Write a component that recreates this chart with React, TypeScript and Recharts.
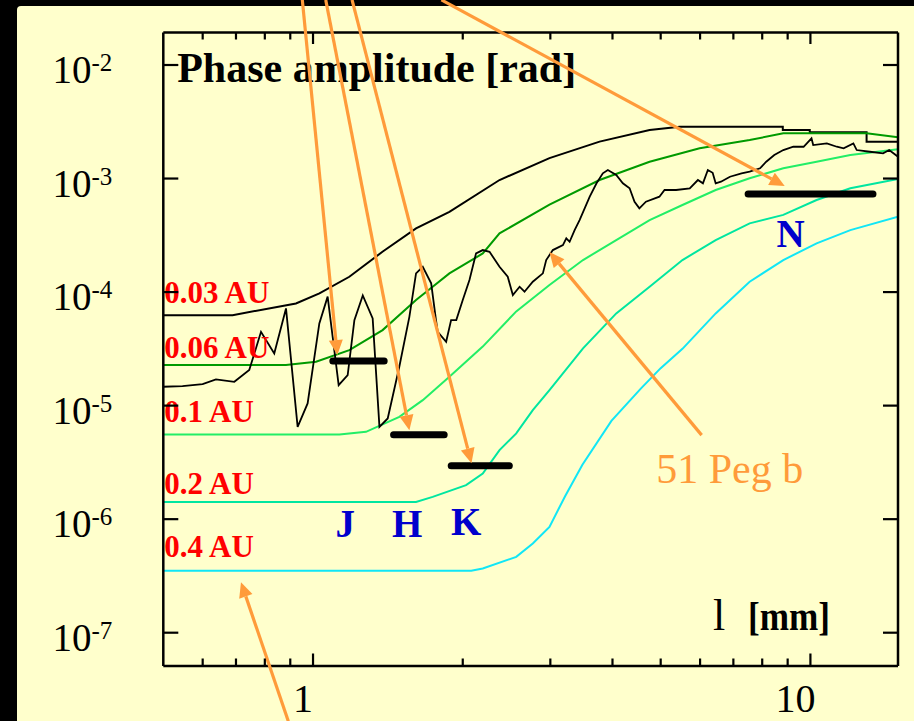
import React from "react";
import { ComposedChart, Line, XAxis, YAxis, ReferenceLine, ReferenceDot } from "recharts";

// ── Style constants ──────────────────────────────────────────
const SERIF = "'Liberation Serif', 'Times New Roman', Times, serif";
const ORANGE = "#FF9B3A";
const RED = "#FF0000";
const BLUE = "#0000CC";
const PAPER = "#FFFFCC";

// ── Axes ─────────────────────────────────────────────────────
const lambdaDomain = [0.5, 15];
const ampDomain = [5.09e-8, 0.01933];
const lambdaTicks = [0.6, 0.7, 0.8, 0.9, 1, 2, 3, 4, 5, 6, 7, 8, 9, 10];
const lambdaLabels = [1, 10];
const ampTicks = [1e-7, 1e-6, 1e-5, 1e-4, 1e-3, 1e-2];

// ── Model curves (x: wavelength, y: log10 of phase amplitude) ─
const au003Lambda = [0.5, 0.689, 0.924, 1.03, 1.183, 1.379, 1.611, 1.88, 2.371, 2.988, 3.768, 4.75, 5.46, 8.8, 8.8, 9.97, 9.97, 12.97, 12.97, 15];
const au003Log = [-4.203, -4.203, -4.1, -4.011, -3.865, -3.645, -3.439, -3.293, -3.013, -2.82, -2.675, -2.573, -2.544, -2.544, -2.573, -2.573, -2.593, -2.593, -2.676, -2.676];

const au006Lambda = [0.5, 0.882, 1.014, 1.183, 1.38, 1.611, 1.74, 1.88, 2.194, 2.371, 2.988, 3.768, 4.75, 5.988, 7.548, 8.82, 12.97, 15];
const au006Log = [-4.643, -4.643, -4.614, -4.511, -4.335, -4.07, -3.953, -3.835, -3.66, -3.483, -3.23, -3.013, -2.852, -2.734, -2.661, -2.602, -2.602, -2.637];

const au01Lambda = [0.5, 1.13, 1.278, 1.491, 1.662, 1.88, 2.194, 2.562, 2.988, 3.49, 4.07, 4.75, 5.53, 6.45, 7.548, 8.82, 10.29, 12.03, 15];
const au01Log = [-5.254, -5.254, -5.231, -5.099, -4.952, -4.746, -4.48, -4.17, -3.938, -3.718, -3.542, -3.366, -3.233, -3.101, -2.998, -2.91, -2.852, -2.793, -2.742];

const au02Lambda = [0.5, 1.611, 1.74, 2.031, 2.194, 2.371, 2.562, 2.766, 2.988, 3.49, 4.07, 4.75, 5.53, 6.45, 7.548, 8.82, 10.29, 12.03, 15];
const au02Log = [-5.848, -5.848, -5.804, -5.7, -5.598, -5.392, -5.245, -5.04, -4.863, -4.496, -4.188, -3.953, -3.718, -3.542, -3.395, -3.32, -3.189, -3.086, -3.003];

const au04Lambda = [0.5, 2.08, 2.194, 2.562, 2.766, 2.988, 3.21, 3.48, 3.98, 4.56, 5.0, 5.53, 6.45, 7.548, 8.82, 10.29, 12.03, 15];
const au04Log = [-6.455, -6.455, -6.434, -6.332, -6.214, -6.068, -5.8, -5.52, -5.134, -4.85, -4.67, -4.5, -4.188, -3.909, -3.718, -3.571, -3.454, -3.337];

const orbitNames = ["0.03 AU", "0.06 AU", "0.1 AU", "0.2 AU", "0.4 AU"];
const orbitColors = ["#000000", "#009A00", "#22EE66", "#00E6A0", "#11E6F6"];
const orbitLabelLog = [-4.094, -4.582, -5.143, -5.774, -6.332];

// ── 51 Peg b spectrum ────────────────────────────────────────
const pegLambda = [0.5, 0.5465, 0.5998, 0.638, 0.6946, 0.7444, 0.786, 0.8357, 0.8824, 0.9312, 0.9753, 1.0296, 1.07, 1.126, 1.174, 1.211, 1.259, 1.318, 1.36, 1.413, 1.491, 1.562, 1.611, 1.662, 1.728, 1.767, 1.781, 1.852, 1.895, 1.941, 2.0, 2.063, 2.127, 2.194, 2.264, 2.371, 2.463, 2.522, 2.602, 2.662, 2.766, 2.898, 2.943, 3.035, 3.18, 3.23, 3.28, 3.357, 3.435, 3.6, 3.715, 3.825, 3.915, 4.07, 4.197, 4.33, 4.43, 4.53, 4.67, 4.97, 5.09, 5.37, 5.72, 5.94, 6.08, 6.22, 6.36, 6.45, 6.61, 6.89, 7.27, 7.548, 7.92, 8.15, 8.46, 8.82, 9.24, 9.69, 10.05, 10.13, 10.79, 11.3, 11.66, 12.2, 12.39, 13.17, 14.0, 14.4, 15];
const pegLog = [-4.834, -4.828, -4.811, -4.769, -4.79, -4.687, -4.35, -4.54, -4.144, -5.187, -4.981, -4.276, -4.04, -4.819, -4.731, -4.247, -4.03, -4.232, -5.187, -5.113, -4.658, -4.218, -3.835, -3.777, -3.923, -4.247, -4.35, -4.438, -4.247, -4.247, -4.07, -3.894, -3.659, -3.63, -3.645, -3.777, -3.865, -4.026, -3.953, -3.997, -3.909, -3.835, -3.718, -3.63, -3.586, -3.527, -3.557, -3.454, -3.366, -3.16, -3.042, -2.954, -2.925, -2.969, -3.042, -3.086, -3.204, -3.263, -3.204, -3.16, -3.101, -3.101, -3.086, -3.013, -3.042, -2.925, -2.949, -3.042, -3.028, -2.984, -2.954, -2.94, -2.91, -2.852, -2.793, -2.749, -2.72, -2.72, -2.646, -2.705, -2.69, -2.72, -2.734, -2.69, -2.749, -2.764, -2.778, -2.749, -2.808];

// ── Photometric bands ────────────────────────────────────────
const bandNames = ["J", "H", "K", "N"];
const bandFrom = [1.096, 1.452, 1.896, 7.495];
const bandTo = [1.39, 1.835, 2.481, 13.36];
const bandLog = [-4.608, -5.257, -5.53, -3.137];
const bandLabelLambda = [1.109, 1.441, 1.895, 8.544];
const bandLabelLog = [-6.161, -6.161, -6.141, -3.601];

// ── Arrows [fromLambda, fromLog, toLambda, toLog] ────────────
const arrows = [
  [0.9516, -1.427, 1.119, -4.555],
  [1.0606, -1.427, 1.562, -5.216],
  [1.198, -1.427, 2.082, -5.507],
  [1.812, -1.427, 8.877, -3.066],
  [6.044, -5.26, 2.988, -3.648],
  [0.892, -7.78, 0.7164, -6.555],
];

const rows = (xs: number[], logs: number[]) => xs.map((x, i) => ({ x, y: Math.pow(10, logs[i]) }));

const curves = [
  rows(au003Lambda, au003Log),
  rows(au006Lambda, au006Log),
  rows(au01Lambda, au01Log),
  rows(au02Lambda, au02Log),
  rows(au04Lambda, au04Log),
];
const pegRows = rows(pegLambda, pegLog);
const bandRows = bandNames.map((_, i) => rows([bandFrom[i], bandTo[i]], [bandLog[i], bandLog[i]]));

// ── Ticks (drawn inward) ─────────────────────────────────────
function BottomTick({ x, y, payload }: any) {
  const v = payload.value;
  const major = lambdaLabels.includes(v);
  return (
    <g>
      <line x1={x} x2={x} y1={y} y2={y - (major ? 12.5 : 7.5)} stroke="#000" strokeWidth={2.2} />
      {major && (
        <text x={x - (v >= 10 ? 15 : 10)} y={y + 46} textAnchor="middle" fontFamily={SERIF} fontSize={40} fill="#000">
          {v}
        </text>
      )}
    </g>
  );
}

function TopTick({ x, y, payload }: any) {
  const major = lambdaLabels.includes(payload.value);
  return <line x1={x} x2={x} y1={y} y2={y + (major ? 11.5 : 7)} stroke="#000" strokeWidth={2.2} />;
}

function LeftTick({ x, y, payload }: any) {
  const exp = Math.round(Math.log10(payload.value));
  return (
    <g>
      <line x1={x} x2={x + 15} y1={y} y2={y} stroke="#000" strokeWidth={2.2} />
      <text x={x - 51} y={y + 18} textAnchor="end" fontFamily={SERIF} fontSize={39} fill="#000">
        10
        <tspan dy={-12} fontSize={25}>
          {exp}
        </tspan>
      </text>
    </g>
  );
}

function RightTick({ x, y }: any) {
  return <line x1={x} x2={x - 15} y1={y} y2={y} stroke="#000" strokeWidth={2.2} />;
}

// ── Annotation shapes ────────────────────────────────────────
const arrowShape = (p: any) => {
  const { x1, y1, x2, y2 } = p;
  const a = Math.atan2(y2 - y1, x2 - x1);
  const len = 15;
  const half = 7;
  const bx = x2 - len * Math.cos(a);
  const by = y2 - len * Math.sin(a);
  const pts = [
    [x2, y2],
    [bx + half * Math.sin(a), by - half * Math.cos(a)],
    [bx - half * Math.sin(a), by + half * Math.cos(a)],
  ]
    .map((q) => q.join(","))
    .join(" ");
  return (
    <g>
      <line x1={x1} y1={y1} x2={bx} y2={by} stroke={ORANGE} strokeWidth={3.2} />
      <polygon points={pts} fill={ORANGE} />
    </g>
  );
};

const textShape = (label: string, size: number, color: string, weight: string, width?: number) => (p: any) => (
  <text
    x={p.cx}
    y={p.cy}
    fontFamily={SERIF}
    fontSize={size}
    fontWeight={weight}
    fill={color}
    textLength={width}
    lengthAdjust={width ? "spacingAndGlyphs" : undefined}
  >
    {label}
  </text>
);

const notes = [
  { text: "Phase amplitude [rad]", x: 0.5333, log: -2.147, size: 42, color: "#000", weight: "bold" },
  { text: "51 Peg b", x: 4.898, log: -5.68, size: 42, color: ORANGE, weight: "normal" },
  { text: "l", x: 6.368, log: -6.978, size: 44, color: "#000", weight: "normal" },
  { text: "[mm]", x: 7.489, log: -6.978, size: 41, color: "#000", weight: "bold", width: 82 },
];

export default function App() {
  const axisLine = { stroke: "#000", strokeWidth: 2.5 };
  return (
    <div style={{ position: "relative", width: 914, height: 721, background: "#000", overflow: "hidden" }}>
      <style>{"body{margin:0;background:#000}"}</style>
      <div
        style={{
          position: "absolute",
          left: 17,
          top: 6,
          width: 897,
          height: 715,
          background: PAPER,
          borderTopLeftRadius: 4,
        }}
      />
      <div style={{ position: "absolute", left: 0, top: 0 }}>
        <ComposedChart width={914} height={721} margin={{ top: 31.5, right: 15, bottom: 54, left: 162.3 }}>
          <XAxis
            dataKey="x"
            type="number"
            scale="log"
            domain={lambdaDomain}
            allowDataOverflow
            ticks={lambdaTicks}
            interval={0}
            height={1}
            tickSize={0}
            tickMargin={0}
            tickLine={false}
            axisLine={axisLine}
            tick={<BottomTick />}
          />
          <XAxis
            xAxisId="top"
            orientation="top"
            dataKey="x"
            type="number"
            scale="log"
            domain={lambdaDomain}
            allowDataOverflow
            ticks={lambdaTicks}
            interval={0}
            height={1}
            tickSize={0}
            tickMargin={0}
            tickLine={false}
            axisLine={axisLine}
            tick={<TopTick />}
          />
          <YAxis
            type="number"
            scale="log"
            domain={ampDomain}
            allowDataOverflow
            ticks={ampTicks}
            interval={0}
            width={1}
            tickSize={0}
            tickMargin={0}
            tickLine={false}
            axisLine={axisLine}
            tick={<LeftTick />}
          />
          <YAxis
            yAxisId="right"
            orientation="right"
            type="number"
            scale="log"
            domain={ampDomain}
            allowDataOverflow
            ticks={ampTicks}
            interval={0}
            width={1}
            tickSize={0}
            tickMargin={0}
            tickLine={false}
            axisLine={axisLine}
            tick={<RightTick />}
          />

          {orbitNames.map((name, i) => (
            <ReferenceDot
              key={name}
              x={0.5022}
              y={Math.pow(10, orbitLabelLog[i])}
              r={0}
              ifOverflow="visible"
              shape={textShape(name, 31, RED, "bold")}
            />
          ))}
          {bandNames.map((name, i) => (
            <ReferenceDot
              key={"lbl" + name}
              x={bandLabelLambda[i]}
              y={Math.pow(10, bandLabelLog[i])}
              r={0}
              ifOverflow="visible"
              shape={textShape(name, 39, BLUE, "bold")}
            />
          ))}
          {notes.map((n) => (
            <ReferenceDot
              key={n.text}
              x={n.x}
              y={Math.pow(10, n.log)}
              r={0}
              ifOverflow="visible"
              shape={textShape(n.text, n.size, n.color, n.weight, n.width)}
            />
          ))}

          {curves.map((data, i) => (
            <Line
              key={orbitNames[i]}
              data={data}
              dataKey="y"
              type="linear"
              stroke={orbitColors[i]}
              strokeWidth={2}
              dot={false}
              activeDot={false}
              isAnimationActive={false}
            />
          ))}
          <Line
            data={pegRows}
            dataKey="y"
            type="linear"
            stroke="#000"
            strokeWidth={1.8}
            dot={false}
            activeDot={false}
            isAnimationActive={false}
          />
          {bandRows.map((data, i) => (
            <Line
              key={bandNames[i]}
              data={data}
              dataKey="y"
              type="linear"
              stroke="#000"
              strokeWidth={7}
              strokeLinecap="round"
              dot={false}
              activeDot={false}
              isAnimationActive={false}
            />
          ))}

          {arrows.map((a, i) => (
            <ReferenceLine
              key={"arrow" + i}
              segment={[
                { x: a[0], y: Math.pow(10, a[1]) },
                { x: a[2], y: Math.pow(10, a[3]) },
              ]}
              ifOverflow="visible"
              shape={arrowShape}
              zIndex={1500}
            />
          ))}
        </ComposedChart>
      </div>
    </div>
  );
}
